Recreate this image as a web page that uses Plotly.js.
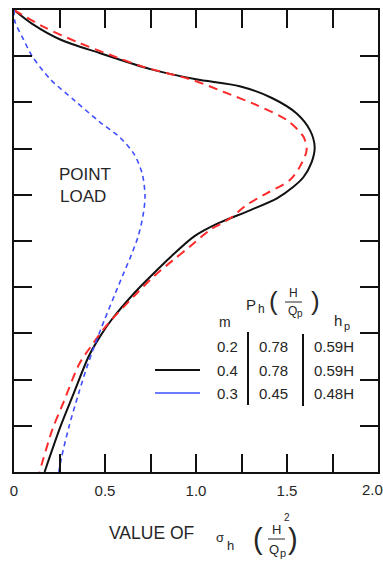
<!DOCTYPE html>
<html>
<head>
<meta charset="utf-8">
<script src="https://cdn.plot.ly/plotly-3.0.1.min.js"></script>
<style>
  html, body { margin: 0; padding: 0; background: #ffffff; }
  #chart { width: 383px; height: 563px; }
</style>
</head>
<body>
<div id="chart"></div>
<script>
// ---- data ----
// depth ratio z/H (0 = top) and value of sigma_h (H^2/Qp)
const depth_m04 = [0, 0.03, 0.065, 0.093, 0.128, 0.15, 0.165, 0.191, 0.224, 0.26, 0.296, 0.33, 0.362, 0.382, 0.407, 0.433, 0.462, 0.49, 0.534, 0.574, 0.613, 0.671, 0.707, 0.75, 0.83, 0.902, 1.0];
const sigma_m04 = [0, 0.1, 0.26, 0.47, 0.75, 1.0, 1.24, 1.42, 1.553, 1.626, 1.652, 1.635, 1.59, 1.537, 1.447, 1.30, 1.12, 0.99, 0.862, 0.757, 0.66, 0.535, 0.472, 0.41, 0.328, 0.255, 0.168];

const depth_m02 = [0, 0.036, 0.069, 0.097, 0.123, 0.152, 0.177, 0.206, 0.238, 0.274, 0.303, 0.339, 0.368, 0.397, 0.422, 0.451, 0.476, 0.512, 0.541, 0.576, 0.613, 0.682, 0.721, 0.765, 0.851, 0.909, 1.0];
const sigma_m02 = [0, 0.16, 0.345, 0.527, 0.71, 0.985, 1.15, 1.334, 1.498, 1.59, 1.608, 1.571, 1.516, 1.388, 1.278, 1.187, 1.077, 0.967, 0.875, 0.77, 0.675, 0.51, 0.436, 0.36, 0.27, 0.21, 0.14];

const depth_m03 = [0, 0.025, 0.062, 0.1, 0.15, 0.195, 0.242, 0.275, 0.312, 0.355, 0.404, 0.447, 0.49, 0.53, 0.57, 0.613, 0.671, 0.729, 0.776, 0.83, 0.902, 0.967, 1.0];
const sigma_m03 = [0, 0.005, 0.05, 0.1, 0.2, 0.33, 0.47, 0.58, 0.66, 0.705, 0.72, 0.708, 0.682, 0.645, 0.602, 0.557, 0.497, 0.44, 0.398, 0.355, 0.302, 0.262, 0.246];

const x_tick_vals = [0, 0.25, 0.5, 0.75, 1.0, 1.25, 1.5, 1.75, 2.0];
const x_tick_text = ['0', '', '0.5', '', '1.0', '', '1.5', '', '2.0'];

const table_m = ['0.2', '0.4', '0.3'];
const table_ph = ['0.78', '0.78', '0.45'];
const table_hp = ['0.59H', '0.59H', '0.48H'];

// ---- layout helpers (pixel -> paper) ----
const W = 383, H = 563;
const M = { l: 14, r: 5, t: 10, b: 91 };
const PW = W - M.l - M.r, PH = H - M.t - M.b;
const px = v => (v - M.l) / PW;
const py = v => (H - M.b - v) / PH;

const FONT = 'Liberation Sans, Arial, sans-serif';
const TXT = '#262626';

function ann(text, x, y, size, extra) {
  return Object.assign({
    text: text, xref: 'paper', yref: 'paper', x: px(x), y: py(y),
    xanchor: 'center', yanchor: 'middle', showarrow: false,
    font: { family: FONT, size: size, color: TXT }
  }, extra || {});
}
function seg(x0, y0, x1, y1, color, width, dash) {
  return {
    type: 'line', xref: 'paper', yref: 'paper',
    x0: px(x0), y0: py(y0), x1: px(x1), y1: py(y1),
    line: { color: color, width: width, dash: dash || 'solid' }
  };
}

const traces = [
  { x: sigma_m04, y: depth_m04, mode: 'lines', name: 'm=0.4',
    line: { color: '#111111', width: 2, shape: 'spline', smoothing: 0.8 } },
  { x: sigma_m02, y: depth_m02, mode: 'lines', name: 'm=0.2',
    line: { color: '#ff2a2a', width: 2, dash: '9px,6px', shape: 'spline', smoothing: 0.8 } },
  { x: sigma_m03, y: depth_m03, mode: 'lines', name: 'm=0.3',
    line: { color: '#3f4fff', width: 1.6, dash: '5px,4px', shape: 'spline', smoothing: 0.8 } }
];

// last tick label is drawn as an annotation shifted inside the page, like the reference
const lastTick = x_tick_text.length - 1;
const x_tick_text_axis = x_tick_text.map((t, i) => (i === lastTick ? '' : t));

const annotations = [
  ann(x_tick_text[lastTick], 372, 490, 15),
  ann('POINT', 85, 175, 17),
  ann('LOAD', 83, 196, 17),
  // table header
  ann('P', 251, 304, 15),
  ann('h', 261, 309, 12),
  ann('(', 273, 301, 26),
  ann('H', 293, 293, 12),
  ann('Q', 292, 311, 12),
  ann('p', 300, 314, 10),
  ann(')', 315, 301, 26),
  ann('m', 225, 322, 14),
  ann('h', 338, 320, 15),
  ann('p', 347, 326, 11),
  // axis title
  ann('VALUE OF', 151, 533, 17.5),
  ann('σ', 220, 537, 13),
  ann('h', 230, 545, 13),
  ann('(', 258, 539, 29),
  ann('H', 276, 529, 13),
  ann('2', 287, 517, 10),
  ann('Q', 274, 549, 13),
  ann('p', 283, 553, 11),
  ann(')', 293, 539, 29)
];
const rowY = [346, 370, 393];
for (let i = 0; i < table_m.length; i++) {
  annotations.push(ann(table_m[i], 227, rowY[i], 15));
  annotations.push(ann(table_ph[i], 273, rowY[i], 15));
  annotations.push(ann(table_hp[i], 334, rowY[i], 15));
}

const shapes = [
  seg(285, 302, 302, 302, TXT, 1),
  seg(268, 539, 285, 539, TXT, 1),
  seg(248, 332, 248, 405, '#111111', 2),
  seg(303, 334, 303, 406, '#111111', 2),
  seg(155, 370, 200, 370, '#111111', 2),
  seg(155, 393, 200, 393, '#3f4fff', 1.6)
];

const axisCommon = {
  showgrid: false, zeroline: false, showline: true, linewidth: 2, linecolor: '#111111',
  ticks: 'inside', ticklen: 18, tickwidth: 2, tickcolor: '#111111', mirror: 'ticks'
};

const layout = {
  width: W, height: H,
  margin: M,
  paper_bgcolor: '#ffffff', plot_bgcolor: '#ffffff',
  showlegend: false,
  xaxis: Object.assign({}, axisCommon, {
    range: [0, 2], tickmode: 'array', tickvals: x_tick_vals, ticktext: x_tick_text_axis,
    tickfont: { family: FONT, size: 15, color: TXT }, ticklabelstandoff: 4,
    ticklabeloverflow: 'allow'
  }),
  yaxis: Object.assign({}, axisCommon, {
    range: [1, 0], tickmode: 'linear', tick0: 0, dtick: 0.1, showticklabels: false
  }),
  annotations: annotations,
  shapes: shapes
};

Plotly.newPlot('chart', traces, layout, { staticPlot: true, displayModeBar: false });
</script>
</body>
</html>
